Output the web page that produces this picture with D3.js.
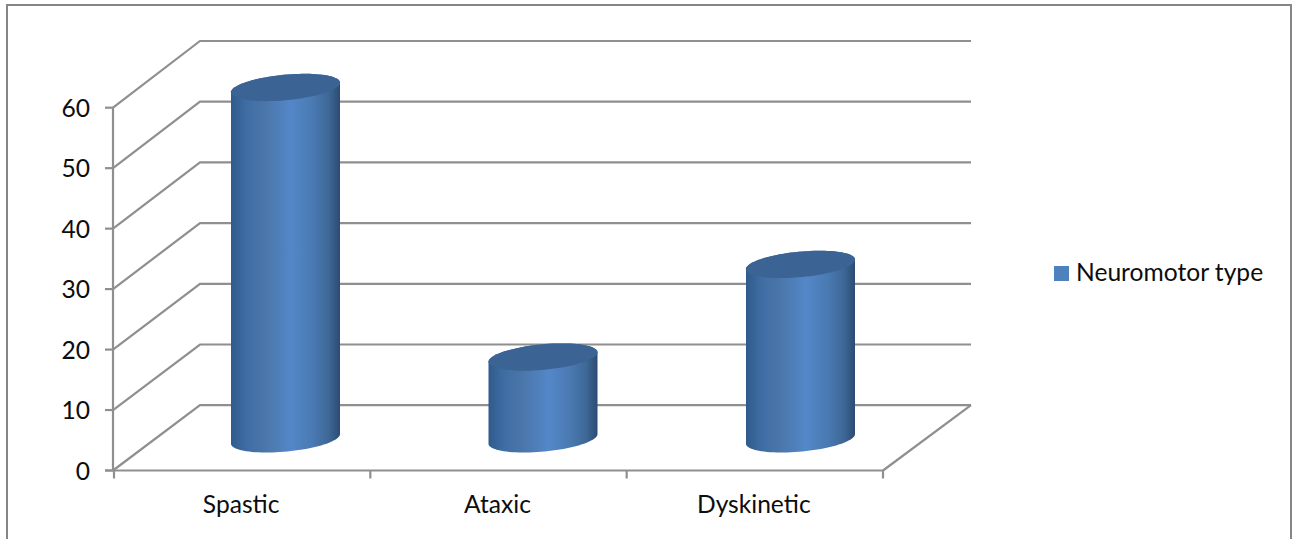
<!DOCTYPE html>
<html><head><meta charset="utf-8">
<script src="https://cdn.jsdelivr.net/npm/d3@7"></script>
<style>html,body{margin:0;padding:0;background:#fff;overflow:hidden}text{font-family:Lato,"Noto Sans",sans-serif;fill:#0d0d0d}</style>
</head><body><svg id="c" width="1292" height="539"></svg>
<script>
const categories = ["Spastic","Ataxic","Dyskinetic"];
const values = [58,13.5,28.8];
const yTicks = [0,10,20,30,40,50,60];
const seriesName = "Neuromotor type";

const svg = d3.select("#c");
const W=1292,H=539;
const x0=114,x1=883,y0=470.5,y60=107.7,dx=87;
const x=d3.scaleBand().domain(categories).range([x0,x1]);
const xMid=d3.scaleBand().domain(categories).range([156.75,929.25]);
const y=d3.scaleLinear().domain([0,60]).range([y0,y60]);
const yBack=d3.scaleLinear().domain([0,60]).range([405.2,41]);
const yMid=v=>(y(v)+yBack(v))/2+1;
const grey="#8f8f8f";

const defs=svg.append("defs");
const g=defs.append("linearGradient").attr("id","cyl").attr("x1",0).attr("x2",1).attr("y1",0).attr("y2",0);
[[0,"#2f5a8c"],[.14,"#3f6da3"],[.3,"#4a75a9"],[.55,"#5387c8"],[.75,"#4a7ab2"],[.9,"#3d6796"],[1,"#2c4b72"]]
 .forEach(([o,c])=>g.append("stop").attr("offset",o).attr("stop-color",c));

// frame
svg.append("path").attr("d",`M7,${H}V5H${W-1}V${H}`).attr("fill","none").attr("stroke","#868686").attr("stroke-width",2);

// walls
const wall=svg.append("g").attr("fill","none").attr("stroke",grey).attr("stroke-width",2.2);
yTicks.forEach(t=>{
  wall.append("path").attr("d",d3.line()([[x0-1,y(t)],[x0-1+dx,yBack(t)],[971,yBack(t)]]));
});
wall.append("path").attr("d",d3.line()([[x1,y0],[971,yBack(0)]]));
wall.append("path").attr("d",d3.line()([[x0-1,y(60)],[x0-1,y0]]));
wall.append("path").attr("d",d3.line()([[x0-9,y0],[x1,y0]]));
yTicks.forEach(t=>wall.append("path").attr("d",d3.line()([[x0-9,y(t)],[x0-1,y(t)]])));
[...categories.map(c=>x(c)),x1].forEach(v=>wall.append("path").attr("d",d3.line()([[v,y0],[v,y0+8]])));

// cylinders
const a=54.5,b=12.8,k=4.8;
const ts=d3.range(0,361,4).map(d=>d*Math.PI/180);
const ell=(cx,cy)=>ts.map(t=>[cx+a*Math.cos(t),cy+b*Math.sin(t)-k*Math.cos(t)]);
const base=yMid(0);
categories.forEach((c,i)=>{
  const cx=xMid(c)+xMid.bandwidth()/2;
  const top=yMid(values[i]);
  const lower=ts.filter(t=>t<=Math.PI+1e-6).map(t=>[cx+a*Math.cos(t),base+b*Math.sin(t)-k*Math.cos(t)]);
  const upper=ts.filter(t=>t>=Math.PI-1e-6).map(t=>[cx+a*Math.cos(t),top+b*Math.sin(t)-k*Math.cos(t)]);
  const line=d3.line();
  svg.append("path").attr("d",line(lower.concat(upper))+"Z").attr("fill","url(#cyl)");
  svg.append("path").attr("d",line(ell(cx,top))+"Z").attr("fill","#3b6394");
});

// labels
const fs=24.6;
yTicks.forEach(t=>svg.append("text").attr("x",90).attr("y",y(t)+9).attr("text-anchor","end").attr("font-size",fs).text(t));
categories.forEach(c=>svg.append("text").attr("x",x(c)+x.bandwidth()/2-1).attr("y",513).attr("text-anchor","middle").attr("font-size",fs).text(c));
svg.append("rect").attr("x",1054).attr("y",266).attr("width",15).attr("height",15).attr("fill","#4f81bd");
svg.append("text").attr("x",1076).attr("y",281).attr("font-size",fs).text(seriesName);
</script></body></html>
